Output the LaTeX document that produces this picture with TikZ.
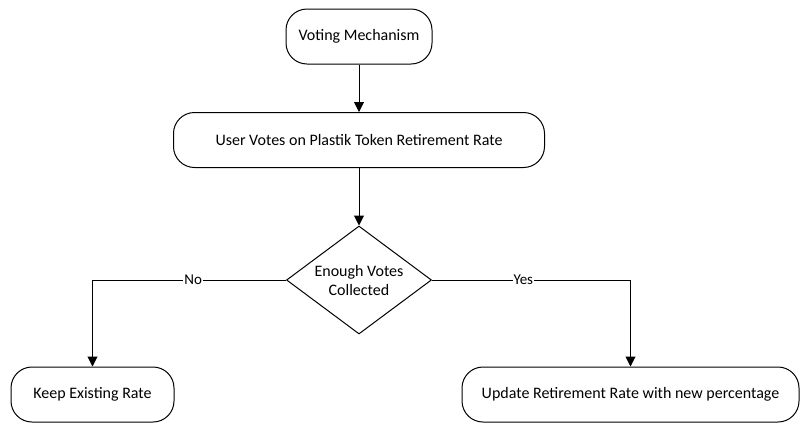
\documentclass[tikz,border=0pt]{standalone}
\usepackage{fontspec}
\setmainfont{Carlito}
\usetikzlibrary{shapes.geometric}
\usetikzlibrary{arrows.meta}

\begin{document}
\begin{tikzpicture}[x=1pt,y=-1pt,line width=1pt,
  font=\fontsize{16pt}{19pt}\selectfont,
  term/.style={draw,fill=white,rectangle,rounded corners=21pt,minimum height=55pt,inner sep=0pt},
  decision/.style={draw,fill=white,diamond,aspect=1.34,minimum width=145pt,minimum height=108pt,inner sep=0pt,align=center},
  flow/.style={-{Triangle[length=10pt,width=10pt]}},
  answer/.style={fill=white,inner sep=1pt,font=\fontsize{15pt}{18pt}\selectfont}]
\useasboundingbox (0,0) rectangle (806,432);
\node (start) [term,minimum width=146pt] at (359,36.5) {Voting Mechanism};
\node (vote) [term,minimum width=371pt] at (359,140) {User Votes on Plastik Token Retirement Rate};
\node (enough) [decision] at (359,280) {Enough Votes\\Collected};
\node (keep) [term,minimum width=163pt] at (92.5,394.5) {Keep Existing Rate};
\node (update) [term,minimum width=337pt] at (630.5,394.5) {Update Retirement Rate with new percentage};
\draw[flow] (start) -- (vote);
\draw[flow] (vote) -- (enough);
\draw[flow] (enough.west) -| node[answer,pos=0.24] {No} (keep.north);
\draw[flow] (enough.east) -| node[answer,pos=0.23] {Yes} (update.north);
\end{tikzpicture}
\end{document}
